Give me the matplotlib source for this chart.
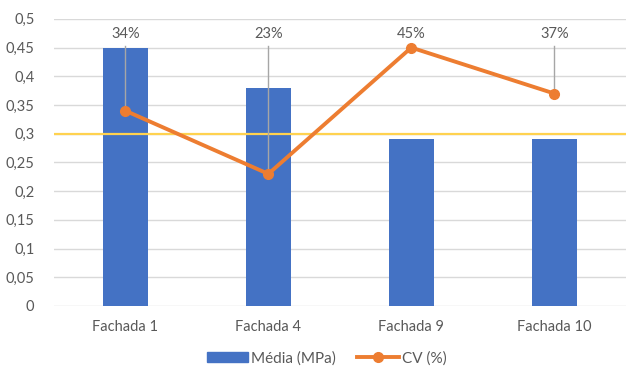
import matplotlib.pyplot as plt
from matplotlib.patches import Patch
from matplotlib.lines import Line2D
from matplotlib.ticker import FuncFormatter, MultipleLocator

plt.rcParams['font.family'] = ['Lato', 'DejaVu Sans']

# Dados
fachadas = ['Fachada 1', 'Fachada 4', 'Fachada 9', 'Fachada 10']
media_mpa = [0.45, 0.38, 0.29, 0.29]
cv = [0.34, 0.23, 0.45, 0.37]
limite = 0.3

azul = '#4472C4'
laranja = '#ED7D31'
cinza_txt = '#595959'

fig = plt.figure(figsize=(6.27, 3.70), dpi=100)
ax = fig.add_axes([0.086, 0.173, 0.912, 0.776])

x = range(len(fachadas))
ax.bar(x, media_mpa, width=0.315, color=azul, zorder=2)
ax.axhline(limite, color='#FFD24F', lw=1.6, zorder=3)
ax.plot(x, cv, color=laranja, lw=2.8, marker='o', ms=7, zorder=5)

# Rótulos do CV com linhas de chamada
for i, v in enumerate(cv):
    ax.plot([i, i], [v, 0.453], color='#A6A6A6', lw=1, zorder=4)
    ax.text(i, 0.474, f'{v * 100:.0f}%', ha='center', va='center',
            fontsize=10.5, color=cinza_txt, zorder=6)

ax.set_xlim(-0.5, 3.5)
ax.set_ylim(0, 0.5)
ax.yaxis.set_major_locator(MultipleLocator(0.05))
ax.yaxis.set_major_formatter(FuncFormatter(
    lambda v, p: ('%g' % round(v, 2)).replace('.', ',')))
ax.set_xticks(list(x))
ax.set_xticklabels(fachadas)
ax.grid(axis='y', color='#D9D9D9', lw=1, zorder=0)
ax.set_axisbelow(True)
for s in ax.spines.values():
    s.set_visible(False)
ax.tick_params(length=0, labelsize=10.5, colors=cinza_txt)
ax.tick_params(axis='x', pad=10)
ax.tick_params(axis='y', pad=14)

handles = [Patch(color=azul, label='Média (MPa)'),
           Line2D([], [], color=laranja, lw=2.8, marker='o', ms=7, label='CV (%)')]
leg = fig.legend(handles=handles, loc='lower center', bbox_to_anchor=(0.521, -0.025),
                 ncol=2, frameon=False, fontsize=11, handlelength=2.7,
                 handleheight=0.6, handletextpad=0.2, columnspacing=1.4)
for t in leg.get_texts():
    t.set_color(cinza_txt)

fig.savefig('out.png', dpi=100)
